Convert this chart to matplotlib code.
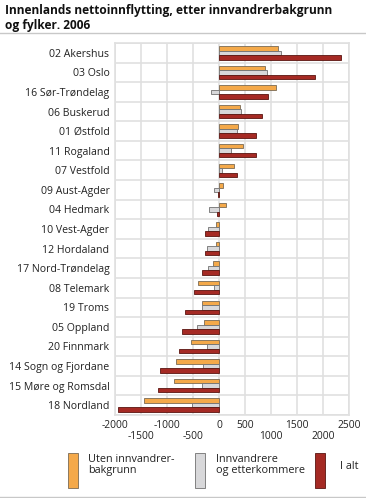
import matplotlib
matplotlib.use("Agg")
import matplotlib.pyplot as plt
import numpy as np
from matplotlib.lines import Line2D
from matplotlib.patches import Rectangle

plt.rcParams['font.family'] = ['Open Sans', 'DejaVu Sans']

categories = ["02 Akershus", "03 Oslo", "16 Sør-Trøndelag", "06 Buskerud", "01 Østfold",
              "11 Rogaland", "07 Vestfold", "09 Aust-Agder", "04 Hedmark", "10 Vest-Agder",
              "12 Hordaland", "17 Nord-Trøndelag", "08 Telemark", "19 Troms", "05 Oppland",
              "20 Finnmark", "14 Sogn og Fjordane", "15 Møre og Romsdal", "18 Nordland"]
uten = [1128, 891, 1090, 397, 372, 461, 282, 70, 141, -64, -51, -109, -404, -320, -295,
        -545, -833, -859, -1436]
innv = [1199, 930, -147, 417, 353, 237, 64, -90, -186, -205, -224, -212, -90, -333, -417,
        -224, -301, -333, -513]
ialt = [2340, 1840, 936, 820, 711, 705, 353, -15, -40, -263, -263, -320, -481, -647, -705,
        -769, -1135, -1173, -1942]
series_labels = ["Uten innvandrer-\nbakgrunn", "Innvandrere\nog etterkommere", "I alt"]
xticks = [-2000, -1500, -1000, -500, 0, 500, 1000, 1500, 2000, 2500]
colors = ["#F4A94A", "#D8D8DA", "#A52A24"]
edges = ["#7a6a55", "#707070", "#5a1510"]

W, H = 366, 498
fig = plt.figure(figsize=(W / 100, H / 100), dpi=100)
ax = fig.add_axes([115 / W, 1 - 415 / H, (349 - 115) / W, (415 - 43) / H])

n = len(categories)
y = np.arange(n)
bh = 0.23
for i, (vals, c, e) in enumerate(zip([uten, innv, ialt], colors, edges)):
    ax.barh(y + (i - 1) * bh, vals, height=bh, color=c, edgecolor=e, linewidth=0.6, zorder=3)

ax.set_ylim(n - 0.5, -0.5)
ax.set_xlim(-2000, 2500)
ax.set_yticks(y)
ax.set_yticklabels(categories, fontsize=7.6, color="#222222")
ax.set_xticks(xticks)
ax.set_xticklabels([])
for xv in xticks:
    ax.axvline(xv, color="#e0e0e0", linewidth=1.2, zorder=1)
for yv in np.arange(-0.5, n, 1):
    ax.axhline(yv, color="#e0e0e0", linewidth=1.2, zorder=1)
ax.tick_params(axis='both', length=0, pad=4)
for s in ax.spines.values():
    s.set_color("#e0e0e0")
    s.set_linewidth(1.2)

# staggered x tick labels (two rows, as in the reference)
row1 = {-2000, -1000, 0, 500, 1500, 2500}
for xv in xticks:
    yy = 425 if xv in row1 else 436
    xd = ax.transData.transform((xv, 0))[0]
    fig.text(xd / W, 1 - yy / H, f"{xv}", ha="center", va="center", fontsize=7.4, color="#222222")

fig.text(5 / W, 1 - 4 / H, "Innenlands nettoinnflytting, etter innvandrerbakgrunn\nog fylker. 2006",
         ha="left", va="top", fontsize=8.6, fontweight="bold", color="#111111", linespacing=1.2)
fig.add_artist(Line2D([0, 1], [1 - 33 / H, 1 - 33 / H], color="#c8c8c8", linewidth=1, transform=fig.transFigure))
fig.add_artist(Line2D([0, 1], [1 - 497 / H, 1 - 497 / H], color="#c8c8c8", linewidth=1, transform=fig.transFigure))

legend_x = [68, 195, 315]
text_x = [88, 216, 340]
for lx, tx, c, e, lab in zip(legend_x, text_x, colors, edges, series_labels):
    fig.add_artist(Rectangle((lx / W, 1 - 488 / H), 10 / W, 35 / H, facecolor=c, edgecolor=e,
                             linewidth=0.6, transform=fig.transFigure))
    if "\n" in lab:
        fig.text(tx / W, 1 - 454 / H, lab, ha="left", va="top", fontsize=7.8, color="#222222",
                 linespacing=1.05)
    else:
        fig.text(tx / W, 1 - 466 / H, lab, ha="left", va="center", fontsize=7.8, color="#222222")

fig.savefig("out.png", dpi=100)
